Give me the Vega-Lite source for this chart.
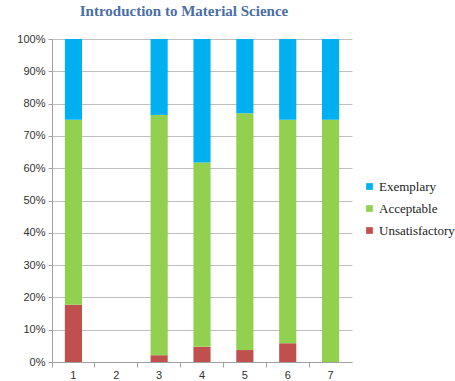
{
  "$schema": "https://vega.github.io/schema/vega-lite/v6.json",
  "width": 300,
  "height": 323,
  "autosize": {"type": "none"},
  "padding": {"left": 52, "top": 39, "right": 103, "bottom": 19},
  "background": "white",
  "title": {
    "text": "Introduction to Material Science",
    "font": "Liberation Serif",
    "fontSize": 15,
    "fontWeight": "bold",
    "color": "#4A6FA5",
    "anchor": "middle",
    "dx": -18,
    "offset": 14
  },
  "data": {
    "values": [
      {"course": "1", "level": "Unsatisfactory", "rank": 1, "value": 0.177},
      {"course": "1", "level": "Acceptable", "rank": 2, "value": 0.573},
      {"course": "1", "level": "Exemplary", "rank": 3, "value": 0.25},
      {"course": "3", "level": "Unsatisfactory", "rank": 1, "value": 0.021},
      {"course": "3", "level": "Acceptable", "rank": 2, "value": 0.744},
      {"course": "3", "level": "Exemplary", "rank": 3, "value": 0.235},
      {"course": "4", "level": "Unsatisfactory", "rank": 1, "value": 0.047},
      {"course": "4", "level": "Acceptable", "rank": 2, "value": 0.571},
      {"course": "4", "level": "Exemplary", "rank": 3, "value": 0.382},
      {"course": "5", "level": "Unsatisfactory", "rank": 1, "value": 0.037},
      {"course": "5", "level": "Acceptable", "rank": 2, "value": 0.733},
      {"course": "5", "level": "Exemplary", "rank": 3, "value": 0.23},
      {"course": "6", "level": "Unsatisfactory", "rank": 1, "value": 0.058},
      {"course": "6", "level": "Acceptable", "rank": 2, "value": 0.692},
      {"course": "6", "level": "Exemplary", "rank": 3, "value": 0.25},
      {"course": "7", "level": "Unsatisfactory", "rank": 1, "value": 0.0},
      {"course": "7", "level": "Acceptable", "rank": 2, "value": 0.75},
      {"course": "7", "level": "Exemplary", "rank": 3, "value": 0.25}
    ]
  },
  "mark": {"type": "bar", "width": {"band": 0.4}},
  "encoding": {
    "x": {
      "field": "course",
      "type": "nominal",
      "scale": {"domain": ["1", "2", "3", "4", "5", "6", "7"], "paddingInner": 0, "paddingOuter": 0},
      "axis": {
        "title": null,
        "labelAngle": 0,
        "bandPosition": 0,
        "labelFont": "Liberation Sans",
        "labelFontSize": 11,
        "labelColor": "#333333",
        "domainColor": "#A0A0A0",
        "tickColor": "#A0A0A0",
        "tickSize": 5,
        "grid": false
      }
    },
    "y": {
      "field": "value",
      "type": "quantitative",
      "stack": "zero",
      "scale": {"domain": [0, 1]},
      "axis": {
        "title": null,
        "format": ".0%",
        "values": [0, 0.1, 0.2, 0.3, 0.4, 0.5, 0.6, 0.7, 0.8, 0.9, 1],
        "labelFont": "Liberation Sans",
        "labelFontSize": 11,
        "labelColor": "#333333",
        "domainColor": "#A0A0A0",
        "tickColor": "#A0A0A0",
        "tickSize": 4,
        "gridColor": "#BFBFBF",
        "labelPadding": 3
      }
    },
    "color": {
      "field": "level",
      "type": "nominal",
      "scale": {
        "domain": ["Exemplary", "Acceptable", "Unsatisfactory"],
        "range": ["#00B0F0", "#92D050", "#C0504D"]
      },
      "legend": {
        "title": null,
        "orient": "none",
        "legendX": 311,
        "legendY": 141,
        "symbolType": "square",
        "symbolSize": 45,
        "symbolStrokeWidth": 0,
        "labelFont": "Liberation Serif",
        "labelFontSize": 13,
        "labelColor": "#222222",
        "rowPadding": 8,
        "labelOffset": 3
      }
    },
    "order": {"field": "rank", "type": "quantitative"}
  },
  "config": {"view": {"stroke": null}}
}
